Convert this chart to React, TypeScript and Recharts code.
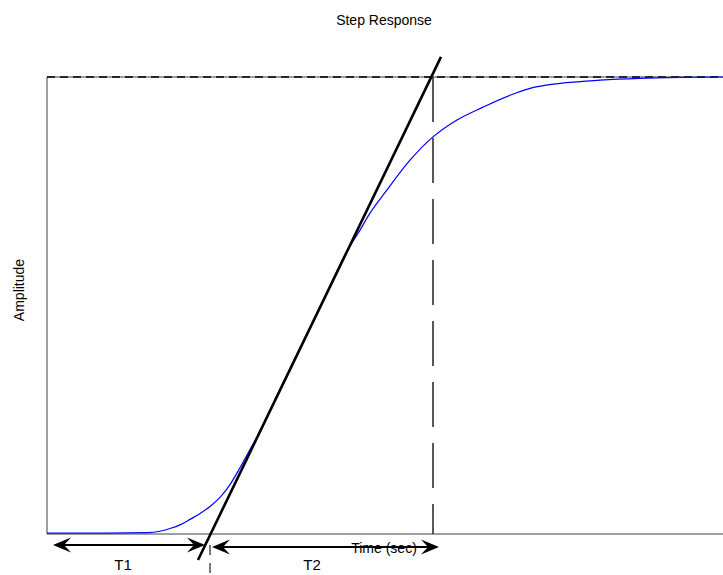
import { LineChart, Line, XAxis, YAxis, ReferenceLine } from 'recharts'

// step response (time in s, amplitude normalised to 1)
const TIME = [
  0, 5, 10, 11.3, 12.3, 13.3, 14.3, 15.3, 16.3, 17.3, 18.3, 19.3, 20.3, 21.0,
  22.3, 24.3, 26.3, 28.3, 29.8, 30.3, 31.3, 32.3, 34.0, 36.3, 38.6, 41.0,
  43.6, 46.3, 48.3, 51.3, 55.3, 59.3, 63.3, 67.6, 71.6,
]
const AMPLITUDE = [
  0.002, 0.002, 0.003, 0.006, 0.012, 0.02, 0.032, 0.045, 0.06, 0.08, 0.108,
  0.145, 0.185, 0.212, 0.271, 0.362, 0.452, 0.543, 0.611, 0.63, 0.665, 0.702,
  0.753, 0.818, 0.869, 0.906, 0.934, 0.96, 0.975, 0.986, 0.993, 0.997, 0.999, 1, 1,
]

// the plot box runs past the right edge of the picture
const X_DOMAIN = [0, 71.6]
const Y_DOMAIN = [0, 1]

// construction lines (data units)
const TANGENT = [{ x: 15.1, y: -0.057 }, { x: 39.4, y: 1.044 }]
const T1_END = 16.3 // tangent meets the time axis
const T2_END = 38.6 // tangent meets the final value
const T1_ARROW = [{ x: 0.6, y: -0.0241 }, { x: 15.8, y: -0.0241 }]
const T2_ARROW = [{ x: 16.5, y: -0.0284 }, { x: 39.2, y: -0.0284 }]

const data = TIME.map((t, i) => ({ t, amp: AMPLITUDE[i] }))

const FONT = '"Liberation Sans", Arial, Helvetica, sans-serif'
const FRAME = '#7f7f7f'

function head(tx: number, ty: number, ux: number, uy: number) {
  const L = 18, W = 7.5, N = 11
  const nx = -uy, ny = ux
  return [
    [tx, ty],
    [tx - L * ux + W * nx, ty - L * uy + W * ny],
    [tx - N * ux, ty - N * uy],
    [tx - L * ux - W * nx, ty - L * uy - W * ny],
  ].map(p => p.join(',')).join(' ')
}

function DoubleArrow(props: any) {
  const { x1, y1, x2, y2 } = props
  const len = Math.hypot(x2 - x1, y2 - y1) || 1
  const ux = (x2 - x1) / len, uy = (y2 - y1) / len
  return (
    <g>
      <line x1={x1 + 8 * ux} y1={y1 + 8 * uy} x2={x2 - 8 * ux} y2={y2 - 8 * uy} stroke="#000" strokeWidth={2} />
      <polygon points={head(x2, y2, ux, uy)} fill="#000" />
      <polygon points={head(x1, y1, -ux, -uy)} fill="#000" />
    </g>
  )
}

// text placed by its centre point
function Txt({ x, y, size = 14, rotate = 0, children }: any) {
  return (
    <div style={{
      position: 'absolute', left: x, top: y, fontFamily: FONT, fontSize: size,
      lineHeight: 1, whiteSpace: 'nowrap', color: '#000',
      transform: `translate(-50%, -50%) rotate(${rotate}deg)`,
    }}>
      {children}
    </div>
  )
}

export default function App() {
  return (
    <div style={{ position: 'fixed', left: 0, top: 0, width: 723, height: 575, overflow: 'hidden', background: '#fff' }}>
      <LineChart width={800} height={575} data={data} margin={{ top: 77, right: 37, bottom: 41, left: 47 }}>
        <XAxis type="number" dataKey="t" domain={X_DOMAIN} hide />
        <YAxis type="number" domain={Y_DOMAIN} hide />
        <ReferenceLine x={0} stroke={FRAME} strokeWidth={1.5} />
        <ReferenceLine y={0} stroke={FRAME} strokeWidth={1.5} />
        <ReferenceLine y={1} stroke={FRAME} strokeWidth={1.5} />
        <ReferenceLine y={1} stroke="#000" strokeWidth={1.5} strokeDasharray="8 5" />
        <ReferenceLine
          segment={[{ x: T2_END, y: 1 }, { x: T2_END, y: 0 }]}
          stroke="#222" strokeWidth={1.5} strokeDasharray="45 16"
        />
        <ReferenceLine
          segment={[{ x: T1_END, y: -0.024 }, { x: T1_END, y: -0.095 }]}
          stroke="#222" strokeWidth={1.2} strokeDasharray="10 8" ifOverflow="visible"
        />
        <Line
          type="monotone" dataKey="amp" stroke="#0000ff" strokeWidth={1.2}
          dot={false} activeDot={false} isAnimationActive={false}
        />
        <ReferenceLine segment={TANGENT} stroke="#000" strokeWidth={2.6} ifOverflow="visible" />
        <ReferenceLine segment={T1_ARROW} ifOverflow="visible" shape={DoubleArrow} />
        <ReferenceLine segment={T2_ARROW} ifOverflow="visible" shape={DoubleArrow} />
      </LineChart>
      <Txt x={384} y={20}>Step Response</Txt>
      <Txt x={384} y={548}>Time (sec)</Txt>
      <Txt x={19} y={290} rotate={-90}>Amplitude</Txt>
      <Txt x={123} y={564} size={15}>T1</Txt>
      <Txt x={312} y={564} size={15}>T2</Txt>
    </div>
  )
}
